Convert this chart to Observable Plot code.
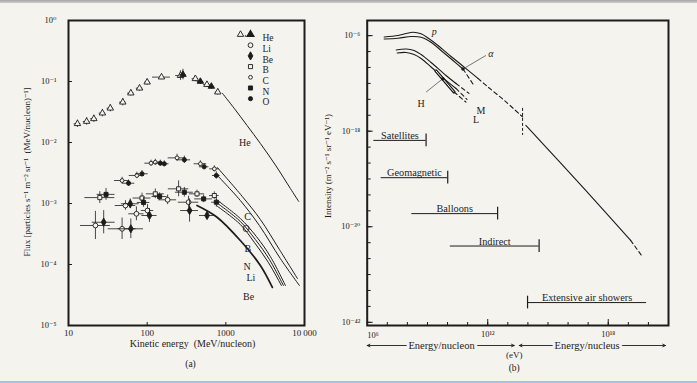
<!DOCTYPE html>
<html>
<head>
<meta charset="utf-8">
<script src="https://cdn.jsdelivr.net/npm/d3@7"></script>
<script src="https://cdn.jsdelivr.net/npm/@observablehq/plot@0.6"></script>
<style>
  html, body { margin: 0; padding: 0; background: #f5f3ee; }
  #fig { position: relative; width: 697px; height: 383px; overflow: hidden; background: #f5f3ee; }
  #fig .rim-top { position: absolute; left: 0; top: 0; width: 697px; height: 3px; background: linear-gradient(#a4a4a4, #cfcfcf); }
  #fig .rim-bottom { position: absolute; left: 0; bottom: 0; width: 697px; height: 2px; background: #a9c0e4; }
  #pa { position: absolute; left: 0; top: 0; }
  #pb { position: absolute; left: 318px; top: 0; }
</style>
</head>
<body>
<div id="fig">
  <div class="rim-top"></div>
  <div id="pa"></div>
  <div id="pb"></div>
  <div class="rim-bottom"></div>
</div>
<script>
// ---------- Panel (a): low-energy spectra of cosmic-ray nuclei ----------
// Measurements: [kinetic energy (MeV/nucleon), flux, energy error factor, flux error factor]
const heliumOpen = [
  [13, 0.0203, 1.1, 1.15], [17, 0.0221, 1.1, 1.15], [21, 0.0245, 1.1, 1.15],
  [27, 0.0303, 1.1, 1.15], [34, 0.0365, 1.1, 1.15], [49, 0.0458, 1.1, 1.15],
  [62, 0.0645, 1.1, 1.12], [80, 0.0777, 1.1, 1.12], [100, 0.0975, 1.08, 1.12],
  [152, 0.118, 1.3, 1.1], [265, 0.125, 1.15, 1.2], [410, 0.111, 1.1, 1.12],
  [575, 0.089, 1.1, 1.12], [790, 0.067, 1.08, 1.12]
];
const heliumFilled = [[285, 0.130, 1.1, 1.22], [475, 0.100, 1.1, 1.12], [655, 0.083, 1.1, 1.12]];
const carbon = [
  [48, 0.00238, 1.25, 1.13], [74, 0.00288, 1.25, 1.13], [112, 0.00458, 1.2, 1.12],
  [127, 0.00475, 1.15, 1.12], [240, 0.0056, 1.3, 1.15], [475, 0.00448, 1.2, 1.12], [715, 0.0037, 1.15, 1.12]
];
const oxygen = [
  [58, 0.00215, 1.2, 1.13], [86, 0.00307, 1.2, 1.13], [147, 0.00458, 1.15, 1.12],
  [165, 0.00448, 1.15, 1.12], [297, 0.0052, 1.2, 1.15], [530, 0.0040, 1.15, 1.12], [757, 0.00288, 1.12, 1.15]
];
const boron = [
  [25, 0.00125, 1.55, 1.25], [86, 0.00123, 1.3, 1.2], [127, 0.00144, 1.3, 1.2],
  [251, 0.00174, 1.35, 1.35], [430, 0.00144, 1.25, 1.15], [714, 0.00135, 1.15, 1.15]
];
const nitrogen = [
  [30, 0.00141, 1.3, 1.25], [90, 0.00104, 1.2, 1.2], [144, 0.0013, 1.25, 1.15],
  [297, 0.00153, 1.3, 1.2], [522, 0.00119, 1.3, 1.15], [757, 0.00105, 1.15, 1.2]
];
const lithium = [
  [22, 0.000436, 1.55, 1.7], [48, 0.000385, 1.5, 1.5], [53, 0.000927, 1.35, 1.2],
  [73, 0.000678, 1.25, 1.3], [101, 0.000767, 1.2, 1.25], [182, 0.00115, 1.3, 1.2], [336, 0.00105, 1.35, 1.25]
];
const beryllium = [
  [28, 0.000493, 1.4, 1.55], [62, 0.000385, 1.45, 1.45], [61, 0.00099, 1.3, 1.2],
  [107, 0.000636, 1.25, 1.3], [346, 0.000767, 1.3, 1.55], [577, 0.000636, 1.25, 1.15]
];
// Calculated spectra at higher energy: [energy, flux]
const heliumCurve = [[903, 0.0643], [1282, 0.0361], [1862, 0.019], [2748, 0.00964], [4265, 0.00428], [6617, 0.00176], [8440, 0.00108]];
const carbonCurve = [[780, 0.00389], [1622, 0.0013], [2748, 0.000547], [4797, 0.000176], [8124, 0.000059]];
const oxygenCurve = [[780, 0.00288], [1529, 0.00112], [2669, 0.000436], [4932, 0.000125], [8610, 0.0000453]];
const boronCurve = [[757, 0.00116], [1529, 0.000567], [2444, 0.000288], [3681, 0.000135], [5715, 0.0000453]];
const nitrogenCurve = [[757, 0.00104], [1529, 0.000507], [2373, 0.000257], [3576, 0.000121], [5390, 0.0000453]];
const lithiumCurve = [[757, 0.000927], [1529, 0.000453], [2305, 0.00023], [3473, 0.000108], [5084, 0.0000453]];
const berylliumCurve = [[430, 0.000927], [773, 0.000596], [1529, 0.000247], [2748, 0.0000963], [3905, 0.000042]];
// Curve names written next to the curves: [text, energy, flux]
const curveNamesA = [
  ["He", 1740, 0.0100], ["C", 1890, 0.000596], ["O", 1807, 0.000385], ["B", 1905, 0.000183],
  ["N", 1862, 0.0000927], ["Li", 2080, 0.0000612], ["Be", 1950, 0.0000299]
];
const legendNames = ["He", "Li", "Be", "B", "C", "N", "O"];
const xTicksA = [10, 100, 1000, 10000];
const xTickLabelsA = ["10", "100", "1000", "10\u2009000"];
const yTickExponentsA = [0, -1, -2, -3, -4, -5];

// ---------- Panel (b): the full cosmic-ray spectrum ----------
// Curves as [log10 E (eV), log10 intensity]
const protonSolid = [[6.845, -6.170], [7.540, -5.982], [7.888, -5.769], [8.285, -5.568], [8.683, -5.769], [9.080, -6.396], [9.527, -7.237], [10.173, -8.617], [10.670, -9.621], [11.514, -11.377]];
const protonDashed = [[11.514, -11.377], [12.011, -12.444], [12.855, -14.2], [13.735, -16.208]];
const allParticle = [[13.899, -17.274], [16.879, -25.43], [19.115, -31.703]];
const allParticleTail = [[19.115, -31.703], [19.711, -33.8]];
const alphaSolid = [[6.845, -6.421], [7.540, -6.321], [8.186, -6.108], [8.683, -6.195], [9.179, -6.823], [9.676, -7.864], [10.272, -9.119], [10.769, -10.185]];
const alphaDashed = [[10.769, -10.185], [11.315, -12.256]];
const mediumSolid = [[7.441, -7.801], [7.937, -7.676], [8.335, -7.864], [8.683, -8.366], [9.179, -9.370], [9.924, -11.001], [10.421, -12.005]];
const mediumDashed = [[10.421, -12.005], [11.067, -13.259]];
const lightSolid = [[7.490, -8.178], [7.937, -8.115], [8.335, -8.366], [8.683, -8.868], [9.179, -9.935], [9.924, -11.628], [10.421, -12.632]];
const lightDashed = [[10.421, -12.632], [10.968, -14.012]];
const heavySolid = [[9.428, -10.436], [10.322, -13.071]];
const heavyDashed = [[10.322, -13.071], [10.918, -14.351]];
const kneeMarker = [{e: 13.735, top: -15.14, bottom: -18.53}];
// Pointers from a label to its curve: [from, to] in log10 units
const pointers = [
  [[11.912, -8.491], [10.769, -10.185]],
  [[8.931, -13.096], [9.761, -11.415]]
];
const curveNamesB = [
  {text: "p", e: 9.343, i: -5.568, italic: true},
  {text: "\u03b1", e: 12.16, i: -8.24, italic: true},
  {text: "H", e: 8.683, i: -14.552},
  {text: "M", e: 11.663, i: -15.39},
  {text: "L", e: 11.415, i: -16.52}
];
// Energy coverage of each technique (log10 E) at a given intensity level
const techniques = [
  {name: "Satellites", lo: 6.333, hi: 8.931, level: -19.157, end: "hi"},
  {name: "Geomagnetic", lo: 6.695, hi: 10.009, level: -23.837, end: "hi"},
  {name: "Balloons", lo: 8.221, hi: 12.493, level: -28.35, end: "hi"},
  {name: "Indirect", lo: 10.138, hi: 14.559, level: -32.419, end: "hi"},
  {name: "Extensive air showers", lo: 13.983, hi: 19.91, level: -39.52, end: "lo"}
];
const energyScales = [
  {label: "Energy/nucleon", lo: 6.0, mid: 9.7, hi: 13.32},
  {label: "Energy/nucleus", lo: 13.57, mid: 16.95, hi: 20.85}
];
const yTickExponentsB = [-42, -40, -38, -36, -34, -32, -30, -28, -26, -24, -22, -20, -18, -16, -14, -12, -10, -8, -6];
const yLabelExponentsB = [-6, -18, -30, -42];
const xTickExponentsB = [7, 8, 9, 10, 11, 12, 13, 14, 15, 16, 17, 18, 19, 20];
const xLabelExponentsB = [12, 18];

// ---------- drawing ----------
const ink = "#1c1c1c";
const paper = "#f5f3ee";
const serif = '"Liberation Serif", "DejaVu Serif", serif';
const sup = {"-": "\u207b", "0": "\u2070", "1": "\u00b9", "2": "\u00b2", "3": "\u00b3", "4": "\u2074", "5": "\u2075", "6": "\u2076", "7": "\u2077", "8": "\u2078", "9": "\u2079"};
const pow10 = e => "10" + String(e).replace(/./g, c => sup[c]);

const symbolStyle = {
  He: {symbol: "triangle", r: 2.4},
  Li: {symbol: "circle", r: 2.4, open: true},
  Be: {symbol: "diamond", r: 2.5},
  B: {symbol: "square", r: 2.3, open: true},
  C: {symbol: "circle", r: 1.9, open: true},
  N: {symbol: "square", r: 2.3},
  O: {symbol: "circle", r: 2.1}
};

function measured(rows, name, open) {
  const s = symbolStyle[name];
  return [
    Plot.ruleY(rows, {y: d => d[1], x1: d => d[0] / d[2], x2: d => d[0] * d[2], stroke: ink, strokeWidth: 0.8}),
    Plot.ruleX(rows, {x: d => d[0], y1: d => d[1] / d[3], y2: d => d[1] * d[3], stroke: ink, strokeWidth: 0.8}),
    Plot.dot(rows, {x: d => d[0], y: d => d[1], symbol: s.symbol, r: s.r, fill: open ? paper : ink, stroke: ink, strokeWidth: 0.9})
  ];
}
const curveA = (rows, w = 1) => Plot.line(rows, {x: d => d[0], y: d => d[1], stroke: ink, strokeWidth: w, curve: "catmull-rom"});
// tick-only axis (inward ticks, no text) and text-only axis
const ticksOnly = (axis, values, size) => axis(values, {tickSize: size, fill: "none", tickFormat: () => "", label: null, stroke: ink});
const labelsOnly = (axis, values, pad, fmt, size) => axis(values, {tickSize: 0, tickPadding: pad, tickFormat: fmt, label: null, fill: ink, fontSize: size});

const legendMarks = legendNames.flatMap((name, i) => {
  const s = symbolStyle[name];
  const dy = 14 + i * 10.7;
  const marks = [Plot.text([name], {frameAnchor: "top-right", dx: -42, dy, text: d => d, textAnchor: "start", fontSize: 9.5, fill: ink})];
  if (name === "He") {
    marks.push(Plot.dot([0], {frameAnchor: "top-right", dx: -64, dy, symbol: "triangle", r: 2.4, fill: paper, stroke: ink, strokeWidth: 0.9}));
    marks.push(Plot.dot([0], {frameAnchor: "top-right", dx: -59, dy: dy + 1.5, r: 0.8, fill: ink}));
    marks.push(Plot.dot([0], {frameAnchor: "top-right", dx: -54, dy, symbol: "triangle", r: 2.4, fill: ink, stroke: ink}));
  } else {
    marks.push(Plot.dot([0], {frameAnchor: "top-right", dx: -54, dy, symbol: s.symbol, r: s.r, fill: s.open ? paper : ink, stroke: ink, strokeWidth: 0.9}));
  }
  return marks;
});

const plotA = Plot.plot({
  width: 340, height: 383,
  marginLeft: 68, marginRight: 36, marginTop: 20, marginBottom: 58,
  style: {background: "transparent", fontFamily: serif, fontSize: "8px", color: ink},
  x: {type: "log", domain: [10, 10000]},
  y: {type: "log", domain: [1e-5, 1]},
  marks: [
    ticksOnly(Plot.axisY, yTickExponentsA.map(e => 10 ** e), -4),
    labelsOnly(Plot.axisY, yTickExponentsA.map(e => 10 ** e), 12, d => pow10(Math.round(Math.log10(d))), 8.5),
    ticksOnly(Plot.axisX, [100, 1000], -3),
    labelsOnly(Plot.axisX, xTicksA, 4, d => xTickLabelsA[xTicksA.indexOf(d)], 9),
    curveA(heliumCurve),
    curveA(carbonCurve), curveA(oxygenCurve),
    curveA(boronCurve), curveA(nitrogenCurve), curveA(lithiumCurve),
    curveA(berylliumCurve, 1.7),
    ...measured(heliumOpen, "He", true),
    ...measured(heliumFilled, "He", false),
    ...measured(carbon, "C", true),
    ...measured(oxygen, "O", false),
    ...measured(boron, "B", true),
    ...measured(nitrogen, "N", false),
    ...measured(lithium, "Li", true),
    ...measured(beryllium, "Be", false),
    Plot.text(curveNamesA, {x: d => d[1], y: d => d[2], text: d => d[0], fontSize: 10, fill: ink}),
    ...legendMarks,
    Plot.text(["Flux [particles s\u207b\u00b9 m\u207b\u00b2 sr\u207b\u00b9  (MeV/nucleon)\u207b\u00b9]"], {frameAnchor: "left", textAnchor: "middle", rotate: -90, dx: -41, dy: -1, text: d => d, fontSize: 9, fill: ink}),
    Plot.text(["Kinetic energy  (MeV/nucleon)"], {frameAnchor: "bottom", dx: 6, dy: 21.5, text: d => d, fontSize: 10, fill: ink}),
    Plot.text(["(a)"], {frameAnchor: "bottom", dx: 4, dy: 41, text: d => d, fontSize: 9.5, fill: ink}),
    Plot.frame({stroke: ink, strokeWidth: 2})
  ]
});
document.getElementById("pa").append(plotA);

const lineB = (rows, opts = {}) => Plot.line(rows, {x: d => 10 ** d[0], y: d => 10 ** d[1], stroke: ink, strokeWidth: 1.1, curve: "catmull-rom", ...opts});
const dashed = {strokeDasharray: "4,3"};
const yBottomB = 10 ** -42.4;

const plotB = Plot.plot({
  width: 379, height: 383,
  marginLeft: 48.7, marginRight: 29, marginTop: 20, marginBottom: 58,
  style: {background: "transparent", fontFamily: serif, fontSize: "8px", color: ink},
  x: {type: "log", domain: [1e6, 1e21]},
  y: {type: "log", domain: [yBottomB, 10 ** -4.1]},
  marks: [
    ticksOnly(Plot.axisY, yTickExponentsB.map(e => 10 ** e), -4),
    ticksOnly(Plot.axisY, yLabelExponentsB.map(e => 10 ** e), -6),
    labelsOnly(Plot.axisY, yLabelExponentsB.map(e => 10 ** e), 7, d => pow10(Math.round(Math.log10(d))), 8.5),
    ticksOnly(Plot.axisX, xTickExponentsB.map(e => 10 ** e), -3),
    ticksOnly(Plot.axisX, xLabelExponentsB.map(e => 10 ** e), -6),
    labelsOnly(Plot.axisX, xLabelExponentsB.map(e => 10 ** e), 5, d => pow10(Math.round(Math.log10(d))), 8.5),
    Plot.text([6], {x: d => 10 ** d, y: yBottomB, dy: 9.5, text: d => pow10(d), textAnchor: "start", fontSize: 8.5, fill: ink}),
    // spectra
    lineB(protonSolid), lineB(protonDashed, dashed),
    lineB(allParticle), lineB(allParticleTail, dashed),
    lineB(alphaSolid), lineB(alphaDashed, dashed),
    lineB(mediumSolid), lineB(mediumDashed, dashed),
    lineB(lightSolid), lineB(lightDashed, dashed),
    lineB(heavySolid, {strokeWidth: 3.2}), lineB(heavySolid, {strokeWidth: 1, stroke: paper}),
    lineB(heavyDashed, dashed),
    Plot.ruleX(kneeMarker, {x: d => 10 ** d.e, y1: d => 10 ** d.top, y2: d => 10 ** d.bottom, stroke: ink, strokeWidth: 1, strokeDasharray: "3,2"}),
    // label pointers
    Plot.link(pointers, {x1: d => 10 ** d[0][0], y1: d => 10 ** d[0][1], x2: d => 10 ** d[1][0], y2: d => 10 ** d[1][1], stroke: "#555", strokeWidth: 0.8}),
    Plot.dot(pointers, {x: d => 10 ** d[1][0], y: d => 10 ** d[1][1], r: 1.8, fill: ink}),
    Plot.text(curveNamesB.filter(d => d.italic), {x: d => 10 ** d.e, y: d => 10 ** d.i, text: "text", fontSize: 10, fontStyle: "italic", fill: ink}),
    Plot.text(curveNamesB.filter(d => !d.italic), {x: d => 10 ** d.e, y: d => 10 ** d.i, text: "text", fontSize: 10, fill: ink}),
    // techniques
    Plot.ruleY(techniques, {y: d => 10 ** d.level, x1: d => 10 ** d.lo, x2: d => 10 ** d.hi, stroke: ink, strokeWidth: 1}),
    Plot.ruleX(techniques, {x: d => 10 ** d[d.end], y1: d => 10 ** (d.level + 0.8), y2: d => 10 ** (d.level - 0.8), stroke: ink, strokeWidth: 1.2}),
    Plot.text(techniques, {x: d => 10 ** ((d.lo + d.hi) / 2), y: d => 10 ** d.level, text: "name", lineAnchor: "bottom", dy: -1.5, fontSize: 10.3, fill: ink}),
    // energy scales under the axis
    Plot.arrow(energyScales, {x1: d => 10 ** d.mid, x2: d => 10 ** d.lo, y1: yBottomB, y2: yBottomB, dy: 20, stroke: ink, strokeWidth: 0.9, headLength: 5, headAngle: 50}),
    Plot.arrow(energyScales, {x1: d => 10 ** d.mid, x2: d => 10 ** d.hi, y1: yBottomB, y2: yBottomB, dy: 20, stroke: ink, strokeWidth: 0.9, headLength: 5, headAngle: 50}),
    Plot.text(energyScales, {x: d => 10 ** d.mid, y: yBottomB, dy: 20, text: "label", fontSize: 10.5, fill: ink, stroke: paper, strokeWidth: 6}),
    Plot.text(["(eV)"], {x: 10 ** 13.32, y: yBottomB, dy: 29.5, text: d => d, fontSize: 9, fill: ink}),
    Plot.text(["(b)"], {x: 10 ** 13.32, y: yBottomB, dy: 42, text: d => d, fontSize: 9.5, fill: ink}),
    Plot.text(["Intensity (m\u207b\u00b2 s\u207b\u00b9 sr\u207b\u00b9 eV\u207b\u00b9)"], {frameAnchor: "left", textAnchor: "middle", rotate: -90, dx: -39, dy: -7, text: d => d, fontSize: 9, fill: ink}),
    Plot.frame({stroke: ink, strokeWidth: 2})
  ]
});
document.getElementById("pb").append(plotB);
</script>
</body>
</html>
